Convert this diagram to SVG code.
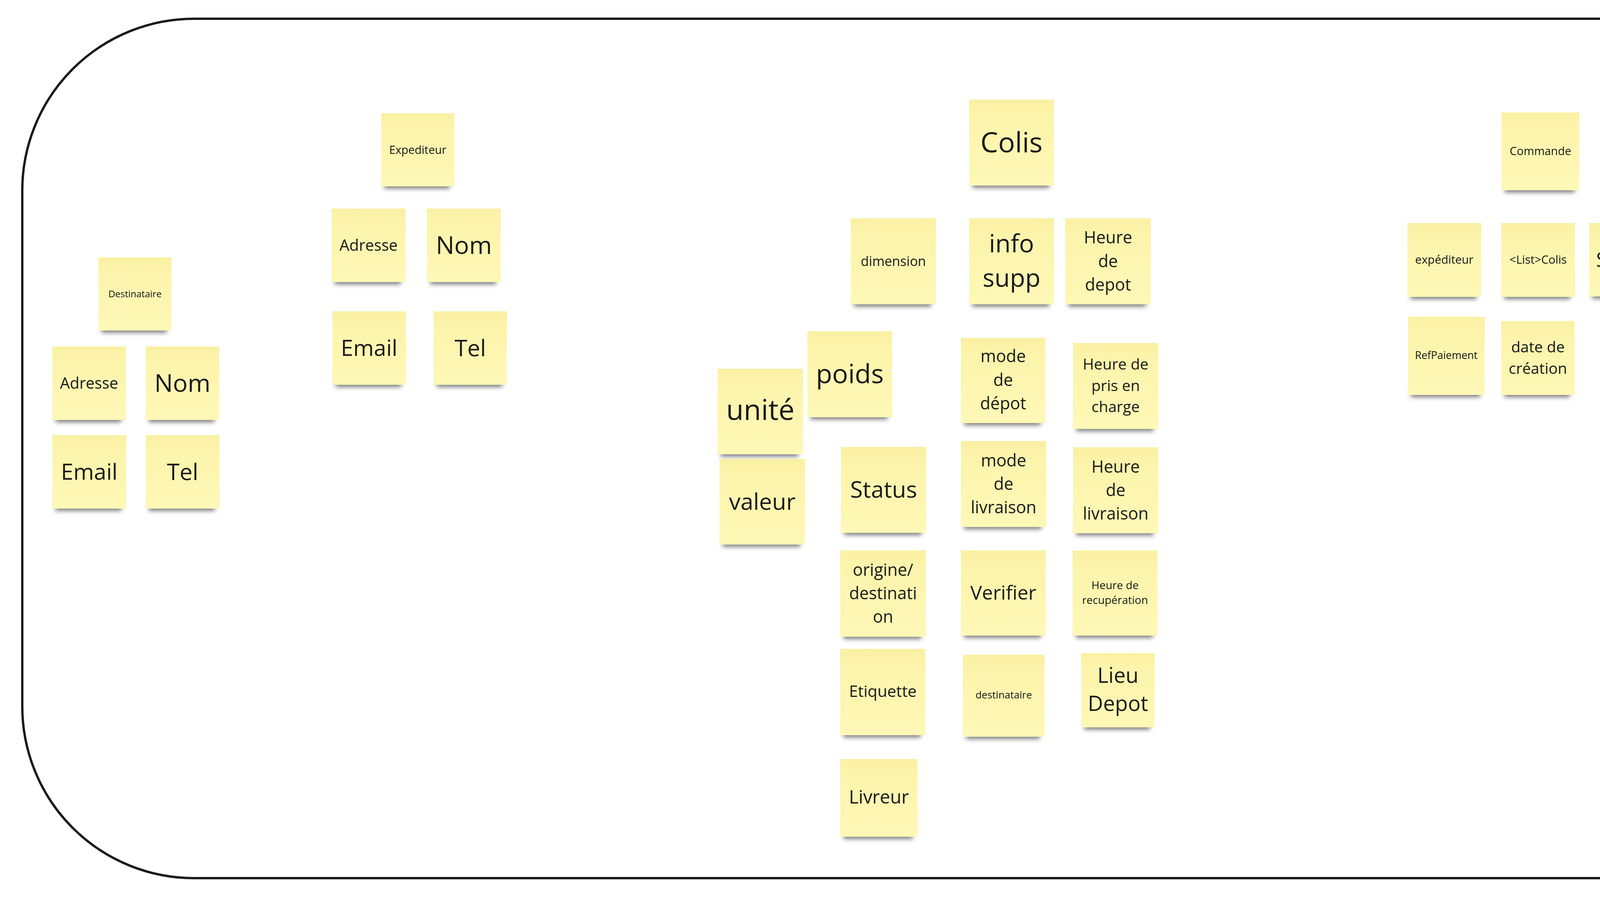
<svg xmlns="http://www.w3.org/2000/svg" width="6875" height="2327" viewBox="0 0 6875 2327">
<defs>
<linearGradient id="ng" x1="0" y1="0" x2="0" y2="1">
<stop offset="0" stop-color="#f9f0a3"/>
<stop offset="0.18" stop-color="#fcf4ab"/>
<stop offset="1" stop-color="#fef8b7"/>
</linearGradient>
<filter id="blur" x="-0.2" y="-1.5" width="1.4" height="4">
<feGaussianBlur stdDeviation="6"/>
</filter>
</defs>
<style>
.note{fill:url(#ng)}
.sh{fill:#000;opacity:0.5;filter:url(#blur)}
.t{font-family:"Open Sans","Noto Sans","DejaVu Sans",sans-serif;fill:#1a1a1a;text-anchor:middle}
.frame{fill:none;stroke:#1a1a1a;stroke-width:6}
</style>
<rect x="0" y="0" width="6875" height="2327" fill="#ffffff"/>
<rect class="frame" x="57" y="48" width="6756" height="2200" rx="440" ry="440"/>

<g id="nodes">
<g id="n-destinataire"><rect class="sh" x="260" y="832" width="167" height="20"/><rect class="note" x="252" y="659" width="187" height="187"/><text class="t" x="345.5" y="761" font-size="24">Destinataire</text></g>
<g id="n-dest-adresse"><rect class="sh" x="142" y="1061" width="168" height="20"/><rect class="note" x="134" y="887" width="188" height="188"/><text class="t" x="228" y="995" font-size="40">Adresse</text></g>
<g id="n-dest-nom"><rect class="sh" x="381" y="1061" width="168" height="20"/><rect class="note" x="373" y="887" width="188" height="188"/><text class="t" x="467" y="1003" font-size="63">Nom</text></g>
<g id="n-dest-email"><rect class="sh" x="142" y="1288" width="169" height="20"/><rect class="note" x="134" y="1114" width="189" height="188"/><text class="t" x="228.5" y="1228" font-size="57">Email</text></g>
<g id="n-dest-tel"><rect class="sh" x="381" y="1288" width="169" height="20"/><rect class="note" x="373" y="1114" width="189" height="188"/><text class="t" x="467.5" y="1229" font-size="59">Tel</text></g>

<g id="n-expediteur"><rect class="sh" x="984" y="463" width="167" height="20"/><rect class="note" x="976" y="290" width="187" height="187"/><text class="t" x="1069.5" y="394" font-size="29">Expediteur</text></g>
<g id="n-exp-adresse"><rect class="sh" x="857" y="708" width="169" height="20"/><rect class="note" x="849" y="534" width="189" height="188"/><text class="t" x="943.5" y="642" font-size="40">Adresse</text></g>
<g id="n-exp-nom"><rect class="sh" x="1101" y="708" width="169" height="20"/><rect class="note" x="1093" y="534" width="189" height="188"/><text class="t" x="1187.5" y="650" font-size="63">Nom</text></g>
<g id="n-exp-email"><rect class="sh" x="859" y="971" width="168" height="20"/><rect class="note" x="851" y="797" width="188" height="188"/><text class="t" x="945" y="911" font-size="57">Email</text></g>
<g id="n-exp-tel"><rect class="sh" x="1118" y="971" width="168" height="20"/><rect class="note" x="1110" y="797" width="188" height="188"/><text class="t" x="1204" y="912" font-size="59">Tel</text></g>

<g id="n-colis"><rect class="sh" x="2489" y="461" width="197" height="20"/><rect class="note" x="2481" y="255" width="217" height="220"/><text class="t" x="2589.5" y="390" font-size="72">Colis</text></g>
<g id="n-dimension"><rect class="sh" x="2186" y="765" width="198" height="20"/><rect class="note" x="2178" y="559" width="218" height="220"/><text class="t" x="2287" y="681" font-size="34">dimension</text></g>
<g id="n-info-supp"><rect class="sh" x="2489" y="765" width="197" height="20"/><rect class="note" x="2481" y="559" width="217" height="220"/><text class="t" x="2589.5" font-size="64"><tspan x="2589.5" y="646">info</tspan><tspan x="2589.5" y="734">supp</tspan></text></g>
<g id="n-heure-depot"><rect class="sh" x="2735" y="765" width="199" height="20"/><rect class="note" x="2727" y="559" width="219" height="220"/><text class="t" x="2836.5" font-size="43"><tspan x="2836.5" y="623">Heure</tspan><tspan x="2836.5" y="684">de</tspan><tspan x="2836.5" y="744">depot</tspan></text></g>
<g id="n-poids"><rect class="sh" x="2075" y="1054" width="197" height="20"/><rect class="note" x="2067" y="848" width="217" height="220"/><text class="t" x="2175.5" y="981" font-size="68">poids</text></g>
<g id="n-unite"><rect class="sh" x="1845" y="1149" width="199" height="20"/><rect class="note" x="1837" y="944" width="219" height="219"/><text class="t" x="1946.5" y="1075" font-size="73">unité</text></g>
<g id="n-mode-depot"><rect class="sh" x="2468" y="1069" width="196" height="20"/><rect class="note" x="2460" y="865" width="216" height="218"/><text class="t" x="2568" font-size="43"><tspan x="2568" y="927">mode</tspan><tspan x="2568" y="988">de</tspan><tspan x="2568" y="1048">dépot</tspan></text></g>
<g id="n-heure-prise"><rect class="sh" x="2755" y="1084" width="198" height="20"/><rect class="note" x="2747" y="878" width="218" height="220"/><text class="t" x="2856" font-size="39"><tspan x="2856" y="946">Heure de</tspan><tspan x="2856" y="1001">pris en</tspan><tspan x="2856" y="1055">charge</tspan></text></g>
<g id="n-valeur"><rect class="sh" x="1850" y="1380" width="199" height="20"/><rect class="note" x="1842" y="1175" width="219" height="219"/><text class="t" x="1951.5" y="1305" font-size="59">valeur</text></g>
<g id="n-colis-status"><rect class="sh" x="2161" y="1350" width="198" height="20"/><rect class="note" x="2153" y="1144" width="218" height="220"/><text class="t" x="2262" y="1274" font-size="59">Status</text></g>
<g id="n-mode-livraison"><rect class="sh" x="2468" y="1335" width="198" height="20"/><rect class="note" x="2460" y="1129" width="218" height="220"/><text class="t" x="2569" font-size="43"><tspan x="2569" y="1194">mode</tspan><tspan x="2569" y="1254">de</tspan><tspan x="2569" y="1314">livraison</tspan></text></g>
<g id="n-heure-livraison"><rect class="sh" x="2755" y="1351" width="198" height="20"/><rect class="note" x="2747" y="1145" width="218" height="220"/><text class="t" x="2856" font-size="43"><tspan x="2856" y="1210">Heure</tspan><tspan x="2856" y="1270">de</tspan><tspan x="2856" y="1330">livraison</tspan></text></g>
<g id="n-origine"><rect class="sh" x="2159" y="1616" width="199" height="20"/><rect class="note" x="2151" y="1409" width="219" height="221"/><text class="t" x="2260.5" font-size="43"><tspan x="2260.5" y="1474">origine/</tspan><tspan x="2260.5" y="1534">destinati</tspan><tspan x="2260.5" y="1594">on</tspan></text></g>
<g id="n-verifier"><rect class="sh" x="2468" y="1613" width="197" height="20"/><rect class="note" x="2460" y="1409" width="217" height="218"/><text class="t" x="2568.5" y="1535" font-size="50">Verifier</text></g>
<g id="n-heure-recup"><rect class="sh" x="2754" y="1613" width="197" height="20"/><rect class="note" x="2746" y="1409" width="217" height="218"/><text class="t" x="2854.5" font-size="28"><tspan x="2854.5" y="1508">Heure de</tspan><tspan x="2854.5" y="1546">recupération</tspan></text></g>
<g id="n-etiquette"><rect class="sh" x="2159" y="1868" width="198" height="20"/><rect class="note" x="2151" y="1661" width="218" height="221"/><text class="t" x="2260" y="1784" font-size="41">Etiquette</text></g>
<g id="n-destinataire2"><rect class="sh" x="2473" y="1872" width="189" height="20"/><rect class="note" x="2465" y="1676" width="209" height="210"/><text class="t" x="2569.5" y="1788" font-size="26">destinataire</text></g>
<g id="n-lieu-depot"><rect class="sh" x="2776" y="1848" width="168" height="20"/><rect class="note" x="2768" y="1672" width="188" height="190"/><text class="t" x="2862" font-size="54"><tspan x="2862" y="1748">Lieu</tspan><tspan x="2862" y="1820">Depot</tspan></text></g>
<g id="n-livreur"><rect class="sh" x="2159" y="2128" width="178" height="20"/><rect class="note" x="2151" y="1943" width="198" height="199"/><text class="t" x="2250" y="2057" font-size="47">Livreur</text></g>

<g id="n-commande"><rect class="sh" x="3852" y="473" width="179" height="20"/><rect class="note" x="3844" y="288" width="199" height="199"/><text class="t" x="3943.5" y="397" font-size="29">Commande</text></g>
<g id="n-cmd-expediteur"><rect class="sh" x="3611" y="746" width="169" height="20"/><rect class="note" x="3603" y="571" width="189" height="189"/><text class="t" x="3697.5" y="675" font-size="29.5">expéditeur</text></g>
<g id="n-cmd-listcolis"><rect class="sh" x="3851" y="746" width="169" height="20"/><rect class="note" x="3843" y="571" width="189" height="189"/><text class="t" x="3937.5" y="675" font-size="29.5">&lt;List&gt;Colis</text></g>
<g id="n-cmd-status"><rect class="sh" x="4076" y="745" width="164" height="20"/><rect class="note" x="4068" y="571" width="184" height="188"/><text class="t" x="4160" y="683" font-size="51">Status</text></g>
<g id="n-cmd-refpaiement"><rect class="sh" x="3612" y="997" width="177" height="20"/><rect class="note" x="3604" y="811" width="197" height="200"/><text class="t" x="3702.5" y="919" font-size="27">RefPaiement</text></g>
<g id="n-cmd-date"><rect class="sh" x="3851" y="997" width="168" height="20"/><rect class="note" x="3843" y="822" width="188" height="189"/><text class="t" x="3937" font-size="39"><tspan x="3937" y="902">date de</tspan><tspan x="3937" y="957">création</tspan></text></g>

<g id="n-paiement"><rect class="sh" x="4671" y="271" width="177" height="20"/><rect class="note" x="4663" y="87" width="197" height="198"/><text class="t" x="4761.5" y="197" font-size="35">Paiement</text></g>
<g id="n-pai-ref"><rect class="sh" x="4671" y="511" width="177" height="20"/><rect class="note" x="4663" y="326" width="197" height="199"/><text class="t" x="4761.5" y="447" font-size="65">Ref</text></g>
<g id="n-pai-montant"><rect class="sh" x="4564" y="744" width="178" height="20"/><rect class="note" x="4556" y="559" width="198" height="199"/><text class="t" x="4655" y="671" font-size="39">Montant</text></g>
<g id="n-pai-date"><rect class="sh" x="4816" y="750" width="178" height="20"/><rect class="note" x="4808" y="565" width="198" height="199"/><text class="t" x="4907" y="687" font-size="64">Date</text></g>
<g id="n-pai-status"><rect class="sh" x="4572" y="1000" width="177" height="20"/><rect class="note" x="4564" y="815" width="197" height="199"/><text class="t" x="4662.5" y="932" font-size="53">Status</text></g>
<g id="n-pai-mode"><rect class="sh" x="4833" y="991" width="178" height="20"/><rect class="note" x="4825" y="806" width="198" height="199"/><text class="t" x="4924" y="924" font-size="57">mode</text></g>

<g id="n-facture"><rect class="sh" x="5512" y="398" width="169" height="20"/><rect class="note" x="5504" y="223" width="189" height="189"/><text class="t" x="5598.5" y="331" font-size="42">Facture</text></g>

<g id="n-reclamation"><rect class="sh" x="6341" y="462" width="166" height="20"/><rect class="note" x="6333" y="288" width="186" height="188"/><text class="t" x="6426" y="390" font-size="25">Reclamation</text></g>
<g id="n-rec-expediteur"><rect class="sh" x="6234" y="710" width="166" height="20"/><rect class="note" x="6226" y="535" width="186" height="189"/><text class="t" x="6319" y="639" font-size="29.7">Expediteur</text></g>
<g id="n-rec-destinataire"><rect class="sh" x="6479" y="710" width="167" height="20"/><rect class="note" x="6471" y="535" width="187" height="189"/><text class="t" x="6564.5" y="637" font-size="24">Destinataire</text></g>
<g id="n-rec-etiquette"><rect class="sh" x="6234" y="938" width="167" height="20"/><rect class="note" x="6226" y="764" width="187" height="188"/><text class="t" x="6319.5" font-size="35.6"><tspan x="6319.5" y="843">Etiquette</tspan><tspan x="6319.5" y="890">Colis</tspan></text></g>
</g>
</svg>
